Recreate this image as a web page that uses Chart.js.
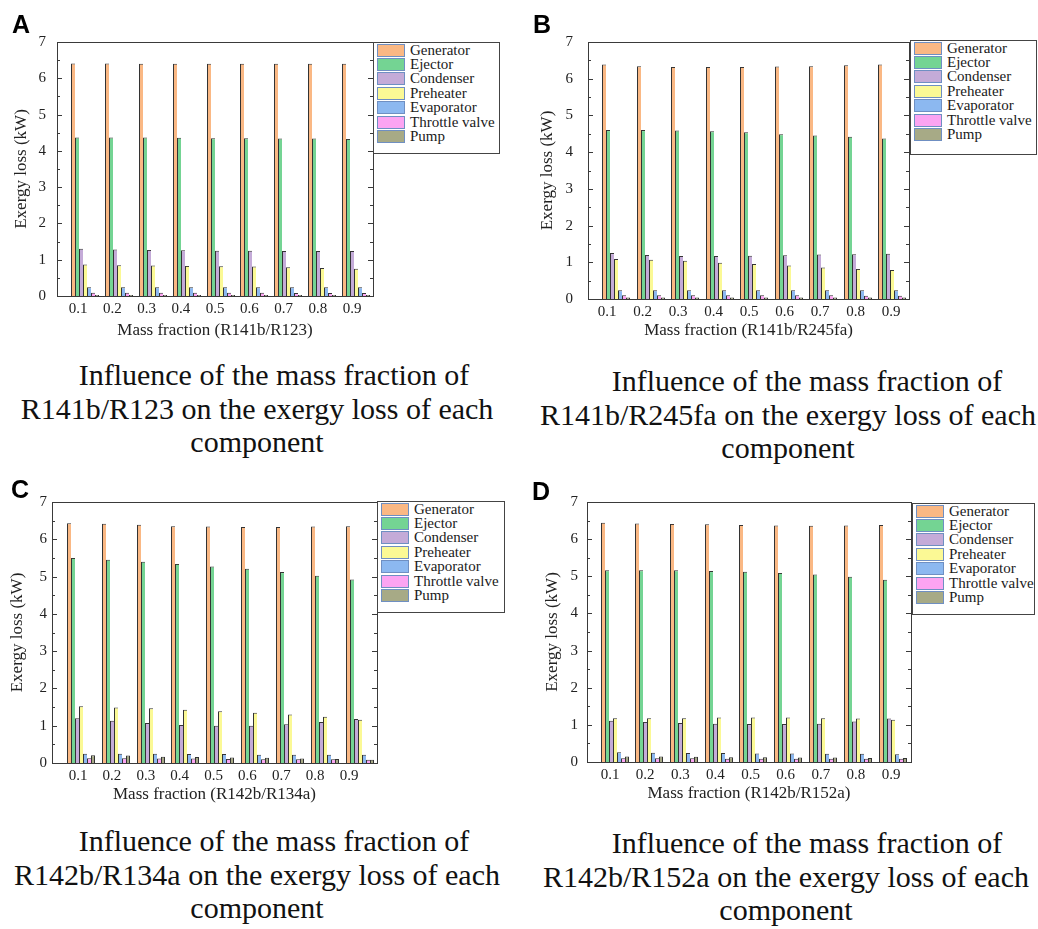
<!DOCTYPE html>
<html>
<head>
<meta charset="utf-8">
<title>Exergy loss of each component vs. mass fraction</title>
<script src="https://cdn.jsdelivr.net/npm/chart.js@4.4.1/dist/chart.umd.min.js"></script>
<style>
  body { margin: 0; background: #fff; }
  #page { position: relative; width: 1038px; height: 929px; overflow: hidden;
          font-family: "Liberation Serif", "Times New Roman", serif; color: #111; }
  #page canvas { position: absolute; }
  .letter { position: absolute; font: bold 25px/25px "Liberation Sans", Arial, sans-serif; color: #000; }
  .legend { position: absolute; background: #fff; border: 1px solid #444; box-sizing: border-box;
            padding: 0 0 0 3px; font-size: 15px; color: #1a1a1a; }
  .legend-row { display: flex; align-items: center; height: 14.4px; white-space: nowrap; }
  .swatch { width: 28px; height: 13px; box-sizing: border-box; border: 1px solid #6f8fc2; margin-right: 5px; }
  .caption { position: absolute; width: 560px; text-align: center; font-size: 30px; line-height: 33.5px; color: #111; }
  .caption span { display: block; position: relative; white-space: nowrap; }
</style>
</head>
<body>
<div id="page"></div>
<script>
// ── Shared categories ──
const massFractions = [0.1, 0.2, 0.3, 0.4, 0.5, 0.6, 0.7, 0.8, 0.9];
const components = ['Generator', 'Ejector', 'Condenser', 'Preheater', 'Evaporator', 'Throttle valve', 'Pump'];
const componentColors = ['#fab884', '#74d493', '#c4abd8', '#fbf995', '#8cb8f0', '#fca4f2', '#a7aa86'];
const yTickValues = [0, 1, 2, 3, 4, 5, 6, 7];

// ── Exergy loss (kW), one row per component, one value per mass fraction ──
const lossR141bR123 = [
  [6.41, 6.41, 6.40, 6.40, 6.40, 6.40, 6.40, 6.40, 6.40],
  [4.37, 4.37, 4.37, 4.36, 4.35, 4.35, 4.34, 4.34, 4.33],
  [1.30, 1.28, 1.27, 1.26, 1.25, 1.25, 1.24, 1.24, 1.24],
  [0.87, 0.85, 0.84, 0.83, 0.82, 0.81, 0.79, 0.77, 0.75],
  [0.24, 0.24, 0.24, 0.24, 0.24, 0.24, 0.24, 0.24, 0.24],
  [0.09, 0.09, 0.09, 0.09, 0.09, 0.09, 0.08, 0.08, 0.08],
  [0.03, 0.03, 0.03, 0.03, 0.03, 0.03, 0.03, 0.03, 0.03]
];

const lossR141bR245fa = [
  [6.39, 6.34, 6.32, 6.32, 6.32, 6.33, 6.34, 6.37, 6.39],
  [4.60, 4.60, 4.59, 4.57, 4.54, 4.49, 4.45, 4.42, 4.37],
  [1.25, 1.20, 1.17, 1.17, 1.18, 1.19, 1.21, 1.22, 1.23],
  [1.09, 1.07, 1.04, 0.99, 0.95, 0.91, 0.86, 0.82, 0.79],
  [0.24, 0.24, 0.24, 0.24, 0.24, 0.24, 0.24, 0.24, 0.24],
  [0.10, 0.10, 0.10, 0.10, 0.10, 0.10, 0.10, 0.09, 0.09],
  [0.04, 0.04, 0.04, 0.04, 0.04, 0.04, 0.04, 0.04, 0.04]
];

const lossR142bR134a = [
  [6.43, 6.42, 6.39, 6.35, 6.34, 6.33, 6.33, 6.34, 6.35],
  [5.50, 5.45, 5.40, 5.34, 5.27, 5.21, 5.12, 5.02, 4.92],
  [1.20, 1.13, 1.07, 1.02, 1.00, 1.00, 1.04, 1.10, 1.18],
  [1.52, 1.49, 1.47, 1.43, 1.39, 1.35, 1.30, 1.24, 1.16],
  [0.25, 0.25, 0.25, 0.24, 0.24, 0.22, 0.22, 0.22, 0.22],
  [0.13, 0.13, 0.12, 0.12, 0.11, 0.10, 0.10, 0.10, 0.09],
  [0.21, 0.20, 0.17, 0.16, 0.15, 0.14, 0.12, 0.11, 0.09]
];

const lossR142bR152a = [
  [6.44, 6.42, 6.41, 6.40, 6.38, 6.37, 6.36, 6.37, 6.38],
  [5.16, 5.16, 5.16, 5.14, 5.12, 5.09, 5.05, 4.99, 4.91],
  [1.11, 1.08, 1.05, 1.03, 1.02, 1.02, 1.03, 1.09, 1.17],
  [1.18, 1.18, 1.18, 1.20, 1.20, 1.20, 1.18, 1.17, 1.14],
  [0.26, 0.25, 0.24, 0.24, 0.23, 0.23, 0.22, 0.22, 0.21],
  [0.10, 0.10, 0.10, 0.09, 0.09, 0.09, 0.09, 0.09, 0.09],
  [0.15, 0.15, 0.14, 0.13, 0.13, 0.12, 0.12, 0.11, 0.11]
];

// ── Panel layout (page pixels) ──
// groups: centre of the first / last bar group, labels: centre of first / last tick label
const panels = [
  {
    letter: 'A', values: lossR141bR123, mixture: 'R141b/R123',
    box: { left: 0, top: 0, width: 380, height: 346 }, plot: { left: 57, top: 42, right: 373, bottom: 296 },
    groups: [85, 356], labels: [78, 352], yTitleX: 22, yGap: 11,
    legend: { left: 373, top: 42, width: 127, height: 112 },
    letterPos: { left: 12, top: 12 }, caption: { center: 257, top: 358, shift: 17 }
  },
  {
    letter: 'B', values: lossR141bR245fa, mixture: 'R141b/R245fa',
    box: { left: 520, top: 0, width: 395, height: 346 }, plot: { left: 588, top: 42, right: 909, bottom: 299 },
    groups: [616, 892], labels: [607, 891], yTitleX: 28, yGap: 15,
    legend: { left: 910, top: 40, width: 127, height: 115 },
    letterPos: { left: 533, top: 12 }, caption: { center: 788, top: 364, shift: 19 }
  },
  {
    letter: 'C', values: lossR142bR134a, mixture: 'R142b/R134a',
    box: { left: 0, top: 460, width: 384, height: 350 }, plot: { left: 52, top: 502, right: 377, bottom: 763 },
    groups: [81, 359.5], labels: [78, 349], yTitleX: 18, yGap: 5,
    legend: { left: 377, top: 501, width: 128, height: 112 },
    letterPos: { left: 11, top: 477 }, caption: { center: 257, top: 824, shift: 17 }
  },
  {
    letter: 'D', values: lossR142bR152a, mixture: 'R142b/R152a',
    box: { left: 520, top: 460, width: 395, height: 349 }, plot: { left: 587, top: 502, right: 911, bottom: 762 },
    groups: [614.5, 892.5], labels: [610, 891], yTitleX: 33, yGap: 9,
    legend: { left: 912, top: 503, width: 123, height: 112 },
    letterPos: { left: 532, top: 479 }, caption: { center: 786, top: 826, shift: 21 }
  }
];

const page = document.getElementById('page');
const serif = 'Liberation Serif, Times New Roman, serif';

// value range of a linear axis so that 0.1 and 0.9 land on the given page pixels
function rangeFor(p, pair) {
  const first = massFractions[0];
  const last = massFractions[massFractions.length - 1];
  const perUnit = (pair[1] - pair[0]) / (last - first);
  const min = first - (pair[0] - p.plot.left) / perUnit;
  return { min, max: min + (p.plot.right - p.plot.left) / perUnit };
}

// keep bar edges on whole pixels so the thin outlines stay crisp
const snapBars = {
  id: 'snapBars',
  afterDatasetsUpdate(chart) {
    chart.getSortedVisibleDatasetMetas().forEach(meta => {
      meta.data.forEach(bar => { bar.x = Math.round(bar.x); });
    });
  }
};

// plot frame with inward major/minor ticks on both vertical sides
const plotFrame = {
  id: 'plotFrame',
  afterDatasetsDraw(chart) {
    const { ctx, chartArea: { left, right, top, bottom }, scales: { y } } = chart;
    ctx.save();
    ctx.strokeStyle = '#3a3a3a';
    ctx.lineWidth = 1;
    ctx.beginPath();
    for (let v = y.min; v <= y.max; v += 0.5) {
      const py = Math.round(y.getPixelForValue(v)) + 0.5;
      const len = Number.isInteger(v) ? 5 : 3;
      ctx.moveTo(left, py); ctx.lineTo(left + len, py);
      ctx.moveTo(right, py); ctx.lineTo(right - len, py);
    }
    ctx.stroke();
    ctx.strokeRect(Math.round(left) + 0.5, Math.round(top) + 0.5, Math.round(right - left), Math.round(bottom - top));
    ctx.restore();
  }
};

function buildPanel(p) {
  const canvas = document.createElement('canvas');
  canvas.width = p.box.width;
  canvas.height = p.box.height;
  canvas.style.left = p.box.left + 'px';
  canvas.style.top = p.box.top + 'px';
  page.appendChild(canvas);

  const yAxisWidth = p.plot.left - p.box.left;
  const xAxisHeight = p.box.top + p.box.height - p.plot.bottom;
  const barRange = rangeFor(p, p.groups);
  const labelRange = rangeFor(p, p.labels);
  const lastIdx = components.length - 1;

  new Chart(canvas, {
    type: 'bar',
    data: {
      datasets: components.map((name, i) => ({
        label: name,
        data: massFractions.map((x, j) => ({ x, y: p.values[i][j] })),
        backgroundColor: componentColors[i],
        borderColor: '#333',
        borderWidth: { left: 1, top: 1, right: i === lastIdx ? 1 : 0, bottom: 0 },
        barThickness: 4,
        inflateAmount: 0
      }))
    },
    options: {
      responsive: false,
      animation: false,
      devicePixelRatio: 1,
      layout: {
        padding: { left: 0, top: p.plot.top - p.box.top, right: p.box.left + p.box.width - p.plot.right, bottom: 0 }
      },
      plugins: { legend: { display: false }, tooltip: { enabled: false } },
      scales: {
        x: {
          type: 'linear', display: false, offset: false,
          min: barRange.min, max: barRange.max
        },
        xl: {
          type: 'linear', axis: 'x', position: 'bottom', offset: false,
          min: labelRange.min, max: labelRange.max,
          afterBuildTicks: axis => { axis.ticks = massFractions.map(v => ({ value: v })); },
          afterFit: axis => { axis.height = xAxisHeight; },
          grid: { display: false, drawTicks: false },
          border: { display: false },
          ticks: {
            padding: 4, autoSkip: false, maxRotation: 0,
            color: '#222', font: { family: serif, size: 15 },
            callback: v => v.toFixed(1)
          },
          title: {
            display: true, text: 'Mass fraction (' + p.mixture + ')', color: '#222',
            font: { family: serif, size: 17 }, padding: { top: 0, bottom: 5 }
          }
        },
        y: {
          min: 0, max: 7,
          afterBuildTicks: axis => { axis.ticks = yTickValues.map(v => ({ value: v })); },
          afterFit: axis => { axis.width = yAxisWidth; },
          grid: { display: false, drawTicks: false },
          border: { display: false },
          ticks: { padding: p.yGap, color: '#222', font: { family: serif, size: 15 } },
          title: {
            display: true, text: 'Exergy loss (kW)', color: '#222',
            font: { family: serif, size: 17 }, padding: { top: p.yTitleX - 10.2, bottom: 0 }
          }
        }
      }
    },
    plugins: [snapBars, plotFrame]
  });

  // legend box
  const legend = document.createElement('div');
  legend.className = 'legend';
  Object.assign(legend.style, {
    left: p.legend.left + 'px', top: p.legend.top + 'px',
    width: p.legend.width + 'px', height: p.legend.height + 'px'
  });
  legend.innerHTML = components.map((name, i) =>
    `<div class="legend-row"><span class="swatch" style="background:${componentColors[i]}"></span>${name}</div>`
  ).join('');
  page.appendChild(legend);

  // panel letter
  const letter = document.createElement('div');
  letter.className = 'letter';
  letter.textContent = p.letter;
  letter.style.left = p.letterPos.left + 'px';
  letter.style.top = p.letterPos.top + 'px';
  page.appendChild(letter);

  // caption under the panel
  const caption = document.createElement('div');
  caption.className = 'caption';
  caption.style.left = (p.caption.center - 280) + 'px';
  caption.style.top = p.caption.top + 'px';
  caption.innerHTML =
    `<span style="left:${p.caption.shift}px">Influence of the mass fraction of</span>` +
    `<span>${p.mixture} on the exergy loss of each</span>` +
    `<span>component</span>`;
  page.appendChild(caption);
}

panels.forEach(buildPanel);
</script>
</body>
</html>
